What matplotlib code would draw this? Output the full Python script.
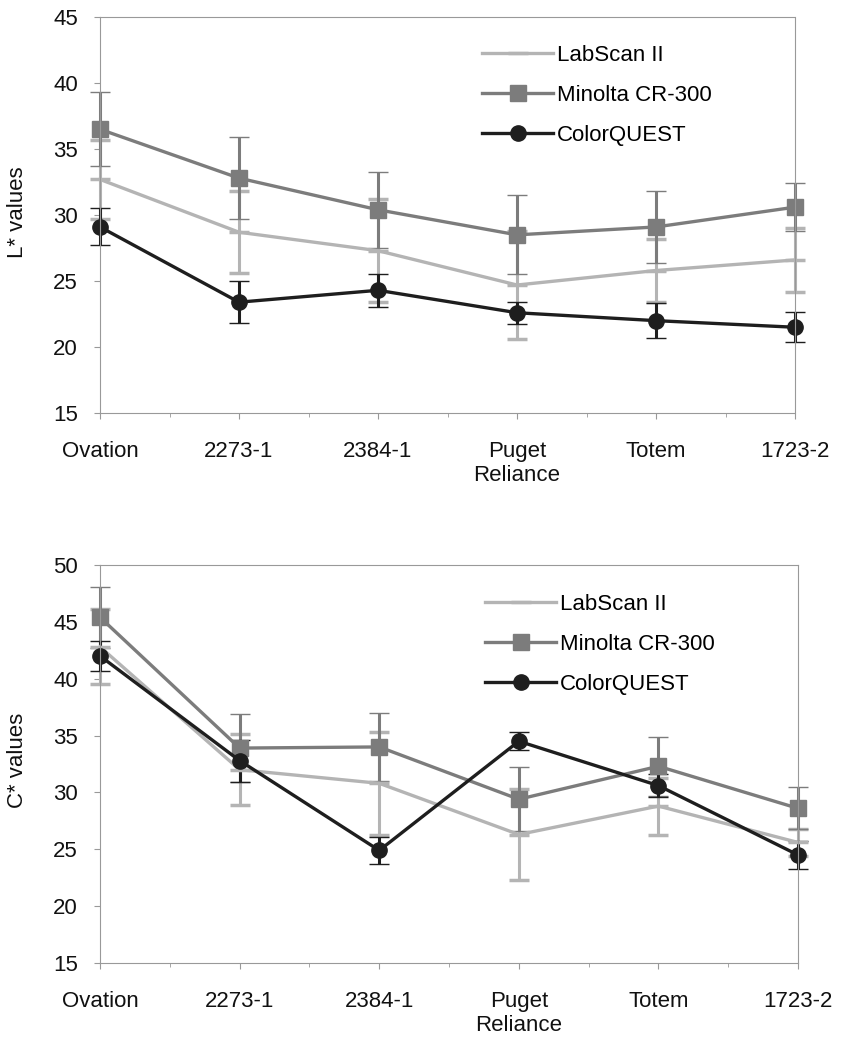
import matplotlib.pyplot as plt
from matplotlib.lines import Line2D
import numpy as np

plt.rcParams['font.family'] = ['Liberation Sans', 'DejaVu Sans']

# cultivares
variedades = ["Ovation", "2273-1", "2384-1", "Puget\nReliance", "Totem", "1723-2"]
instrumentos = ["LabScan II", "Minolta CR-300", "ColorQUEST"]

# L* (medias y desvios)
L_labscan = [32.7, 28.7, 27.3, 24.7, 25.8, 26.6]
L_labscan_err = [3.0, 3.1, 3.9, 4.1, 2.4, 2.4]
L_minolta = [36.5, 32.8, 30.4, 28.5, 29.1, 30.6]
L_minolta_err = [2.8, 3.1, 2.9, 3.0, 2.7, 1.8]
L_cq = [29.1, 23.4, 24.3, 22.6, 22.0, 21.5]
L_cq_err = [1.4, 1.6, 1.25, 0.85, 1.35, 1.15]

# C* (medias y desvios)
C_labscan = [42.8, 32.0, 30.8, 26.3, 28.8, 25.6]
C_labscan_err = [3.3, 3.1, 4.5, 4.0, 2.5, 1.2]
C_minolta = [45.4, 33.9, 34.0, 29.4, 32.3, 28.6]
C_minolta_err = [2.7, 3.0, 3.0, 2.8, 2.6, 1.85]
C_cq = [42.0, 32.8, 24.9, 34.5, 30.6, 24.5]
C_cq_err = [1.3, 1.85, 1.2, 0.8, 1.0, 1.2]

colores = ['#b4b4b4', '#7c7c7c', '#1e1e1e']
marcas = ['_', 's', 'o']
tam_marca = [14, 12, 11]
fs_txt = 16


def panel(ax, series, errores, ylim, ylab, ytxt, ley_x, ley_y):
    xx = np.arange(len(variedades))
    for yy, ee, c, m, ms in zip(series, errores, colores, marcas, tam_marca):
        ax.errorbar(xx, yy, yerr=ee, color=c, ecolor=c, elinewidth=2.2, capsize=7,
                    capthick=2.2, marker=m, markersize=ms,
                    markeredgewidth=2.5 if m == '_' else 1,
                    linewidth=2.4, clip_on=False)
    ax.set_xlim(0, len(variedades) - 1)
    ax.set_ylim(*ylim)
    ax.set_yticks(np.arange(ylim[0], ylim[1] + 1, 5))
    ax.set_xticks(xx)
    ax.set_xticks(xx[:-1] + 0.5, minor=True)
    ax.set_xticklabels(variedades, fontsize=fs_txt, va='top', linespacing=1.2)
    ax.tick_params(axis='x', which='major', length=4, pad=16, colors='#999999', labelcolor='#111111')
    ax.tick_params(axis='x', which='minor', length=3, colors='#999999')
    ax.tick_params(axis='y', length=4, labelsize=fs_txt, colors='#999999', labelcolor='#111111', pad=12)
    for s in ax.spines.values():
        s.set_color('#999999')
        s.set_linewidth(0.8)
        s.set_linestyle((0, (1, 1)))

    # leyenda solo con linea y marcador
    manijas = [Line2D([], [], color=c, marker=m, markersize=ms, linewidth=2.4,
                      markeredgewidth=2.5 if m == '_' else 1)
               for c, m, ms in zip(colores, marcas, tam_marca)]
    ax.legend(manijas, instrumentos, loc='upper left', bbox_to_anchor=(ley_x, ley_y),
              frameon=False, fontsize=fs_txt, handlelength=3.2, handletextpad=0.15,
              labelspacing=0.86)

    fig.text(0.021, ytxt, ylab, rotation=90, fontsize=fs_txt, ha='center', va='center',
             color='#111111')


fig = plt.figure(figsize=(8.57, 10.42), dpi=100)
ax1 = fig.add_axes([0.1167, 0.6036, 0.811, 0.380])
ax2 = fig.add_axes([0.1167, 0.0758, 0.8145, 0.382])

panel(ax1, [L_labscan, L_minolta, L_cq], [L_labscan_err, L_minolta_err, L_cq_err],
      (15, 45), "L* values", 1 - 212 / 1042, 0.521, 0.98)
panel(ax2, [C_labscan, C_minolta, C_cq], [C_labscan_err, C_minolta_err, C_cq_err],
      (15, 50), "C* values", 1 - 760 / 1042, 0.523, 0.978)

fig.savefig('out.png', dpi=100)
